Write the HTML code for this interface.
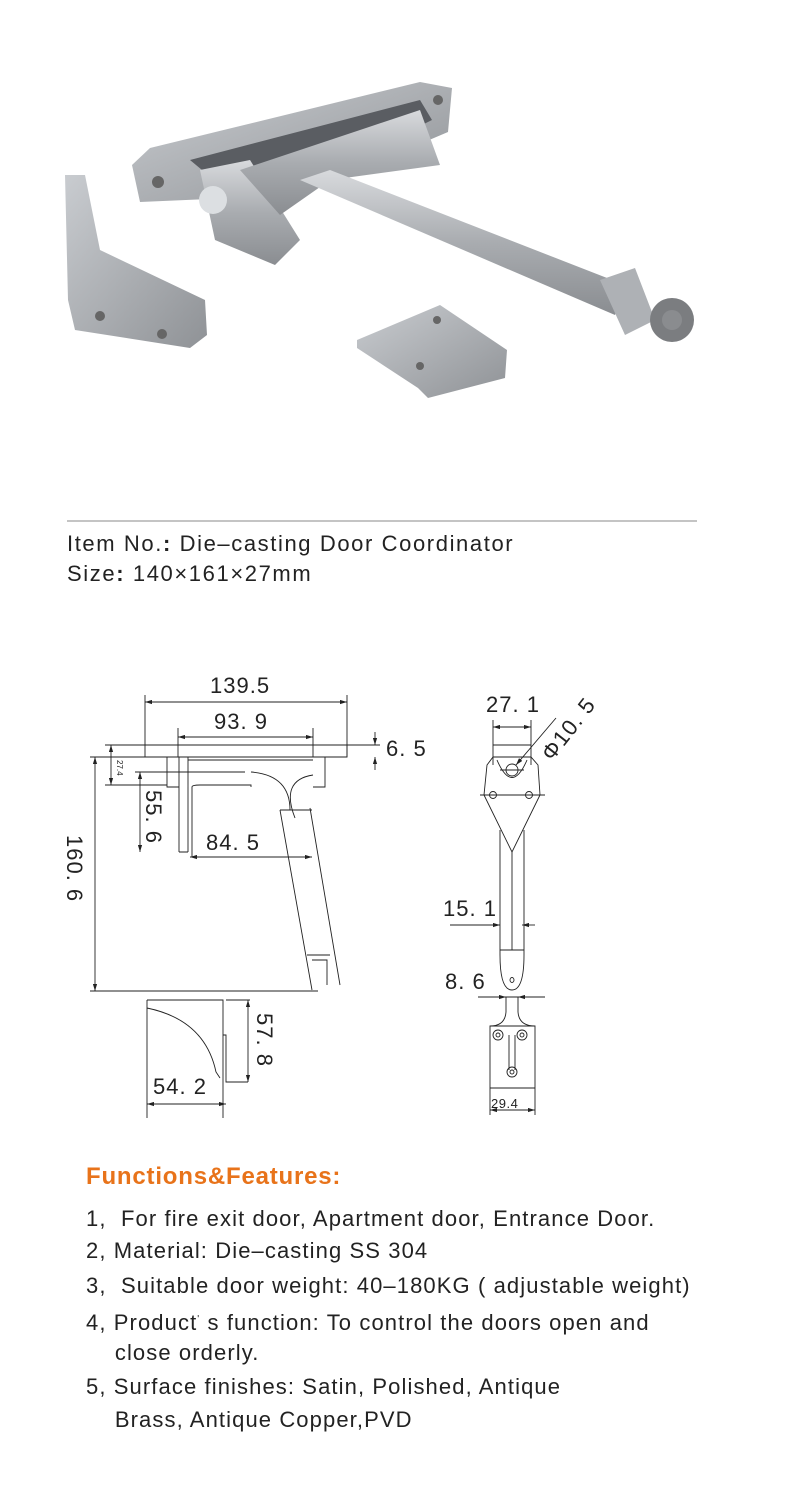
<!DOCTYPE html>
<html><head><meta charset="utf-8"><style>
body{margin:0;background:#fff;width:800px;height:1491px;position:relative;overflow:hidden;font-family:"Liberation Sans","Noto Sans CJK SC",sans-serif;color:#222}
.t{position:absolute;white-space:nowrap}
.l{position:absolute;left:86px;white-space:nowrap;font-size:22px;letter-spacing:1.1px;line-height:26px}
</style></head><body>
<svg width="800" height="1491" style="position:absolute;left:0;top:0">
<defs>
<linearGradient id="m" x1="0" y1="0" x2="0" y2="1"><stop offset="0" stop-color="#d8dadd"/><stop offset=".5" stop-color="#a9acb0"/><stop offset="1" stop-color="#8a8d91"/></linearGradient>
<linearGradient id="m2" x1="0" y1="0" x2="1" y2="1"><stop offset="0" stop-color="#c9ccd0"/><stop offset="1" stop-color="#8f9296"/></linearGradient>
<marker id="a" viewBox="0 0 10 6" refX="10" refY="3" markerWidth="8" markerHeight="5" orient="auto-start-reverse"><path d="M0,0L10,3L0,6z" fill="#222"/></marker>
</defs>
<polygon points="132,165 150,148 420,82 452,88 448,132 300,195 140,202" fill="url(#m2)"/>
<polygon points="190,160 420,100 432,120 250,210" fill="#5a5d62"/>
<polygon points="200,170 250,160 300,240 275,265 215,240" fill="url(#m)"/>
<polygon points="240,170 420,110 440,165 330,180 280,215" fill="url(#m)"/>
<polygon points="300,180 330,170 625,285 615,315" fill="url(#m)"/>
<polygon points="600,280 635,268 655,320 625,335" fill="#aeb1b5"/>
<circle cx="672" cy="320" r="22" fill="#7b7d80"/>
<circle cx="672" cy="320" r="10" fill="#8a8c8f"/>
<circle cx="213" cy="200" r="14" fill="#dcdfe2"/>
<circle cx="158" cy="182" r="6" fill="#666"/>
<circle cx="438" cy="100" r="5" fill="#666"/>
<polygon points="65,175 85,175 100,250 205,300 207,335 190,348 75,330 68,300" fill="url(#m2)"/>
<circle cx="100" cy="316" r="5" fill="#666"/><circle cx="162" cy="334" r="5" fill="#666"/>
<polygon points="357,340 440,305 507,350 505,378 428,398 418,388 357,348" fill="url(#m2)"/>
<circle cx="437" cy="320" r="4" fill="#666"/><circle cx="420" cy="366" r="4" fill="#666"/>
<line x1="67" y1="521" x2="697" y2="521" stroke="#888" stroke-width="1"/>
<g fill="none" stroke="#222" stroke-width="0.9">
<path d="M145,695V745M347,695V757M178,728V757M313,728V757"/>
<line x1="145" y1="702" x2="347" y2="702" marker-start="url(#a)" marker-end="url(#a)"/>
<line x1="178" y1="737" x2="313" y2="737" marker-start="url(#a)" marker-end="url(#a)"/>
<path d="M145,745H380M145,745V757H167V787H179M347,745V757H325V787H313M105,745H145"/>
<path d="M90,757H340M105,785H167M135,772H245"/>
<line x1="375" y1="732" x2="375" y2="745" marker-end="url(#a)"/><line x1="375" y1="770" x2="375" y2="757" marker-end="url(#a)"/>
<line x1="95" y1="757" x2="95" y2="991" marker-start="url(#a)" marker-end="url(#a)"/>
<line x1="111" y1="745" x2="111" y2="785" marker-start="url(#a)" marker-end="url(#a)"/>
<line x1="140" y1="772" x2="140" y2="852" marker-start="url(#a)" marker-end="url(#a)"/>
<path d="M179,757V852M188,757V852M179,852H188M188,760H313M192,787V857M192,787Q192,785 200,785H251V787"/>
<line x1="190" y1="857" x2="312" y2="857" marker-start="url(#a)" marker-end="url(#a)"/>
<path d="M251,772Q290,775 290,810M295,818Q280,780 313,775M280,810L312,990M310,808L340,985M280,810H312M307,955H330M312,960H327V985M90,991H318"/>
<path d="M147,1000H223V1082M147,1000V1118M147,1008Q205,1020 216,1072L220,1078M223,1000V1118M223,1035H226V1082H248"/>
<path d="M226,1000H250"/>
<line x1="248" y1="1000" x2="248" y2="1082" marker-start="url(#a)" marker-end="url(#a)"/>
<line x1="147" y1="1104" x2="226" y2="1104" marker-start="url(#a)" marker-end="url(#a)"/>
<path d="M493,720V765M531,720V765"/>
<line x1="493" y1="727" x2="531" y2="727" marker-start="url(#a)" marker-end="url(#a)"/>
<path d="M493,745H531M487,765L493,757H531L538,765L540,795L512,852L484,795Z"/>
<path d="M497,760Q512,795 527,760"/>
<circle cx="512" cy="770" r="6"/>
<line x1="556" y1="718" x2="516" y2="765" marker-end="url(#a)"/>
<circle cx="493" cy="795" r="3.5"/><circle cx="529" cy="795" r="3.5"/>
<path d="M480,795H545M500,770H524M500,830V955Q500,990 512,990Q524,990 524,955V830M512,852V950M500,950H524"/>
<line x1="450" y1="925" x2="500" y2="925"/><line x1="488" y1="925" x2="500" y2="925" marker-end="url(#a)"/><line x1="535" y1="925" x2="522" y2="925" marker-end="url(#a)"/>
<ellipse cx="512" cy="980" rx="2" ry="2.5"/>
<path d="M478,997H545"/><line x1="494" y1="997" x2="506" y2="997" marker-end="url(#a)"/><line x1="530" y1="997" x2="518" y2="997" marker-end="url(#a)"/>
<path d="M506,997V1012M518,997V1012M506,1012Q505,1026 490,1026V1115M518,1012Q519,1026 535,1026V1115M490,1026H535M490,1088H535M509,1035V1070M515,1035V1070"/>
<circle cx="498" cy="1035" r="5"/><circle cx="498" cy="1035" r="2"/><circle cx="522" cy="1035" r="5"/><circle cx="522" cy="1035" r="2"/><circle cx="512" cy="1072" r="5"/><circle cx="512" cy="1072" r="2"/>
<line x1="490" y1="1110" x2="535" y2="1110" marker-start="url(#a)" marker-end="url(#a)"/>
</g>
<g font-family="Liberation Sans, sans-serif" fill="#222" font-size="22" letter-spacing="1">
<text x="210" y="693">139.5</text>
<text x="214" y="729">93. 9</text>
<text x="386" y="756">6. 5</text>
<text x="206" y="850">84. 5</text>
<text x="153" y="1094">54. 2</text>
<text transform="translate(67,835) rotate(90)">160. 6</text>
<text transform="translate(146,790) rotate(90)">55. 6</text>
<text transform="translate(257,1013) rotate(90)">57. 8</text>
<text transform="translate(117,760) rotate(90)" font-size="8" letter-spacing="0">27.4</text>
<text x="486" y="712">27. 1</text>
<text transform="translate(552,762) rotate(-52)">Φ10. 5</text>
<text x="443" y="916">15. 1</text>
<text x="445" y="989">8. 6</text>
<text x="491" y="1108" font-size="13" letter-spacing="0.5">29.4</text>
</g>
</svg>
<div class="t" style="left:67px;top:531px;font-size:22px;letter-spacing:1.6px">Item No.<b>:</b> Die–casting Door Coordinator</div>
<div class="t" style="left:67px;top:561px;font-size:22px;letter-spacing:1.6px">Size<b>:</b> 140×161×27mm</div>
<div class="t" style="left:86px;top:1163px;font-size:24px;letter-spacing:0.8px;font-weight:bold;color:#e8731a">Functions&amp;Features:</div>
<div class="l" style="top:1206px">1,&nbsp; For fire exit door, Apartment door, Entrance Door.</div>
<div class="l" style="top:1238px">2, Material: Die–casting SS 304</div>
<div class="l" style="top:1273px">3,&nbsp; Suitable door weight: 40–180KG ( adjustable weight)</div>
<div class="l" style="top:1307px">4, Product<span style="font-size:10px;vertical-align:8px">'</span> s function: To control the doors open and</div>
<div class="l" style="top:1340px">&nbsp;&nbsp;&nbsp; close orderly.</div>
<div class="l" style="top:1374px">5, Surface finishes: Satin, Polished, Antique</div>
<div class="l" style="top:1407px">&nbsp;&nbsp;&nbsp; Brass, Antique Copper,PVD</div>
</body></html>
